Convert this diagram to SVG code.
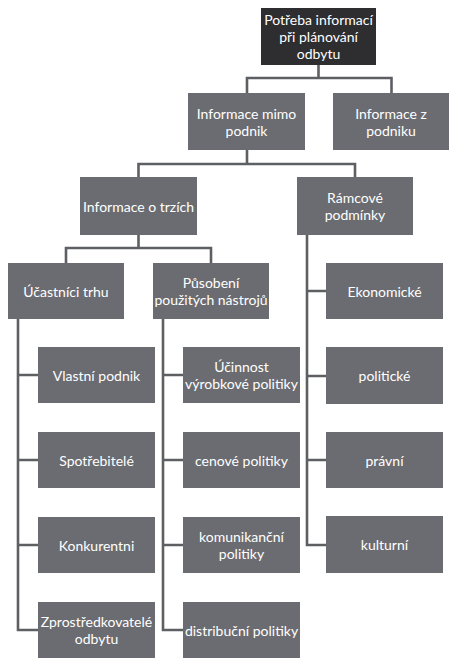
<svg xmlns="http://www.w3.org/2000/svg" width="459" height="665" viewBox="0 0 459 665">
<style>
.b{fill:#6b6c71}
.d{fill:#2e2e31}
.t{font-family:Lato,"Open Sans","Liberation Sans",sans-serif;font-size:14px;fill:#ffffff;text-anchor:middle;dominant-baseline:central}
.c{fill:none;stroke:#5e5f63;stroke-width:2.6;stroke-linejoin:miter}
</style>
<rect width="459" height="665" fill="#ffffff"/>
<g id="connectors">
<path class="c" d="M318.5 65 V78 M247 93 V78 H391.5 V93"/>
<path class="c" d="M247 150 V164 M138.5 177 V164 H355 V177"/>
<path class="c" d="M138.5 235 V248 M66 263 V248 H211 V263"/>
<path class="c" d="M18 319 V630 H38 M18 375 H38 M18 460 H38 M18 545 H38"/>
<path class="c" d="M163 319 V630 H183 M163 375 H183 M163 460 H183 M163 545 H183"/>
<path class="c" d="M307 235 V545 H326 M307 291 H326 M307 376 H326 M307 460 H326"/>
</g>
<g id="n-root"><rect class="d" x="261" y="8" width="115" height="57"/><text class="t" x="318.5" y="19">Potřeba informací</text><text class="t" x="318.5" y="36">při plánování</text><text class="t" x="318.5" y="53">odbytu</text></g>
<g id="n-mimo"><rect class="b" x="188" y="93" width="117" height="57"/><text class="t" x="246.5" y="113">Informace mimo</text><text class="t" x="246.5" y="130">podnik</text></g>
<g id="n-zpodniku"><rect class="b" x="333" y="93" width="116" height="57"/><text class="t" x="391" y="113">Informace z</text><text class="t" x="391" y="130">podniku</text></g>
<g id="n-trzich"><rect class="b" x="80" y="177" width="117" height="58"/><text class="t" x="138.5" y="206">Informace o trzích</text></g>
<g id="n-ramcove"><rect class="b" x="297" y="177" width="116" height="58"/><text class="t" x="355" y="197">Rámcové</text><text class="t" x="355" y="214">podmínky</text></g>
<g id="n-ucastnici"><rect class="b" x="8" y="263" width="116" height="56"/><text class="t" x="66" y="291">Účastníci trhu</text></g>
<g id="n-pusobeni"><rect class="b" x="153" y="263" width="116" height="56"/><text class="t" x="211" y="282">Působení</text><text class="t" x="211" y="299">použitých nástrojů</text></g>
<g id="n-ekonomicke"><rect class="b" x="326" y="263" width="117" height="56"/><text class="t" x="384.5" y="291">Ekonomické</text></g>
<g id="n-vlastni"><rect class="b" x="38" y="347" width="117" height="56"/><text class="t" x="96.5" y="375">Vlastní podnik</text></g>
<g id="n-ucinnost"><rect class="b" x="183" y="347" width="117" height="56"/><text class="t" x="241.5" y="366">Účinnost</text><text class="t" x="241.5" y="383">výrobkové politiky</text></g>
<g id="n-politicke"><rect class="b" x="326" y="347" width="117" height="57"/><text class="t" x="384.5" y="375">politické</text></g>
<g id="n-spotrebitele"><rect class="b" x="38" y="432" width="117" height="56"/><text class="t" x="96.5" y="460">Spotřebitelé</text></g>
<g id="n-cenove"><rect class="b" x="183" y="432" width="117" height="56"/><text class="t" x="241.5" y="460">cenové politiky</text></g>
<g id="n-pravni"><rect class="b" x="326" y="432" width="117" height="56"/><text class="t" x="384.5" y="460">právní</text></g>
<g id="n-konkurentni"><rect class="b" x="38" y="517" width="117" height="56"/><text class="t" x="96.5" y="545">Konkurentni</text></g>
<g id="n-komunikacni"><rect class="b" x="183" y="517" width="117" height="56"/><text class="t" x="241.5" y="536">komunikanční</text><text class="t" x="241.5" y="553">politiky</text></g>
<g id="n-kulturni"><rect class="b" x="326" y="516" width="117" height="57"/><text class="t" x="384.5" y="544">kulturní</text></g>
<g id="n-zprostredkovatele"><rect class="b" x="38" y="602" width="117" height="56"/><text class="t" x="96.5" y="621">Zprostředkovatelé</text><text class="t" x="96.5" y="638">odbytu</text></g>
<g id="n-distribucni"><rect class="b" x="183" y="602" width="117" height="56"/><text class="t" x="241.5" y="630">distribuční politiky</text></g>
</svg>
